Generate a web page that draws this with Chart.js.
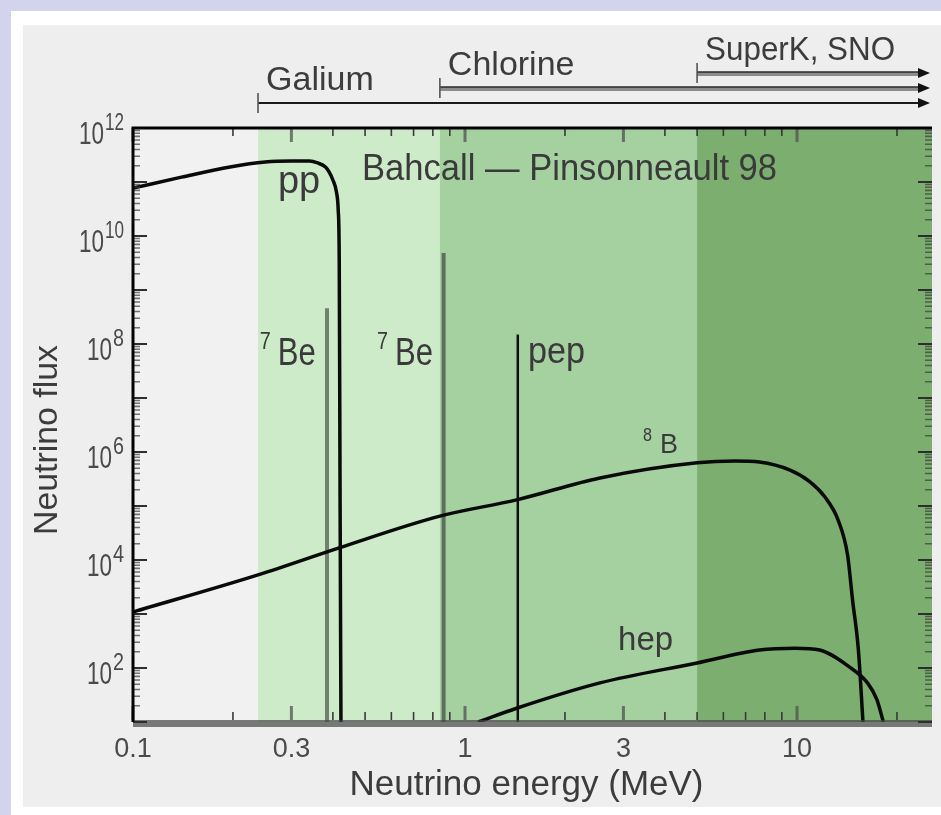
<!DOCTYPE html>
<html>
<head>
<meta charset="utf-8">
<script src="https://cdn.jsdelivr.net/npm/chart.js@4/dist/chart.umd.min.js"></script>
<style>
  html, body { margin: 0; padding: 0; background: #d3d3ee; }
  canvas { display: block; }
</style>
</head>
<body>
<canvas id="spectrum" width="941" height="815"></canvas>
<script>
// Solar neutrino spectrum, Bahcall–Pinsonneault 98 (energy in MeV)

// pp continuum
const ppEnergy = [0.1, 0.14, 0.196, 0.25, 0.3, 0.34, 0.36, 0.38, 0.39, 0.40, 0.41, 0.415, 0.418, 0.4205, 0.423];
const ppFlux   = [7.7e10, 1.23e11, 1.9e11, 2.35e11, 2.45e11, 2.45e11, 2.25e11, 1.9e11, 1.53e11, 1.09e11, 6.5e10, 3.05e10, 3.6e9, 1e5, 10];

// 8B continuum
const b8Energy = [0.1, 0.238, 0.42, 0.84, 1.43, 2.55, 5.0, 6.5, 7.7, 9.53, 10.94, 12.1, 13.3, 14.2, 14.7, 15.3, 15.8];
const b8Flux   = [1.09e3, 5.3e3, 1.7e4, 6.5e4, 1.3e5, 3.3e5, 6.3e5, 6.8e5, 6.5e5, 4.6e5, 2.8e5, 1.5e5, 5.5e4, 1.24e4, 1.8e3, 2.2e2, 10];

// hep continuum
const hepEnergy = [1.095, 1.43, 2.55, 5.0, 7.7, 9.86, 11.7, 14.4, 16.3, 17.4, 18.2];
const hepFlux   = [10, 18, 53, 124, 215, 233, 215, 104, 53, 26, 10];

// mono-energetic lines
const lineEnergy = [0.384, 0.862, 1.442];
const lineFlux   = [4.6e8, 4.84e9, 1.5e8];

// detector thresholds (start of each shaded band)
const detectorNames      = ['Galium', 'Chlorine', 'SuperK, SNO'];
const detectorThresholds = [0.238, 0.84, 5.0];

// axis ranges and labelled ticks
const energyRange    = [0.1, 25.5];
const fluxRange      = [10, 1e12];
const xTickLabels    = ['0.1', '0.3', '1', '3', '10'];
const xTickValues    = [0.1, 0.3, 1, 3, 10];
const yTickExponents = [2, 4, 6, 8, 10, 12];

const FONT = '"Liberation Sans", Arial, Helvetica, sans-serif';
const bandColors = ['#cdebc9', '#a5d1a1', '#7cae70'];

function pts(xs, ys) { return xs.map((x, i) => ({ x, y: ys[i] })); }
function spike(i) { return [{ x: lineEnergy[i], y: fluxRange[0] }, { x: lineEnergy[i], y: lineFlux[i] }]; }

function put(ctx, str, x, y, size, maxW, align) {
  ctx.font = size + 'px ' + FONT;
  ctx.textAlign = align || 'left';
  if (maxW) ctx.fillText(str, x, y, maxW); else ctx.fillText(str, x, y);
}

const decor = {
  id: 'decor',
  beforeDraw(chart) {
    const { ctx, chartArea: a, scales: { x } } = chart;
    ctx.save();
    ctx.fillStyle = '#d3d3ee'; ctx.fillRect(0, 0, 941, 815);
    ctx.fillStyle = '#ffffff'; ctx.fillRect(11, 11, 930, 804);
    ctx.fillStyle = '#eeeeee'; ctx.fillRect(23, 25, 918, 782);
    ctx.fillStyle = '#f1f1f1'; ctx.fillRect(a.left, a.top, a.width, a.height);
    const edges = detectorThresholds.concat([x.max]);
    for (let i = 0; i < detectorThresholds.length; i++) {
      const x0 = x.getPixelForValue(edges[i]);
      const x1 = x.getPixelForValue(edges[i + 1]);
      ctx.fillStyle = bandColors[i];
      ctx.fillRect(x0, a.top, x1 - x0, a.height);
    }
    ctx.restore();
  },
  afterDatasetsDraw(chart) {
    const { ctx, chartArea: a, scales: { x, y } } = chart;
    ctx.save();
    ctx.lineCap = 'butt';

    // bottom axis bar
    ctx.fillStyle = 'rgba(70,70,70,0.7)';
    ctx.fillRect(a.left, a.bottom - 2, a.right - a.left, 7);

    // energy ticks, bottom and top
    for (let d = -1; d <= 1; d++) {
      for (let m = 1; m <= 9; m++) {
        const v = m * Math.pow(10, d);
        if (v < x.min * 0.999 || v > x.max) continue;
        const px = x.getPixelForValue(v);
        const major = xTickValues.some(t => Math.abs(t - v) < 1e-9);
        ctx.strokeStyle = major ? 'rgba(80,80,80,0.75)' : '#3a3a3a';
        ctx.lineWidth = major ? 3 : 1.6;
        const len = major ? 14 : 8;
        ctx.beginPath();
        ctx.moveTo(px, a.bottom - 2); ctx.lineTo(px, a.bottom - 2 - len);
        ctx.moveTo(px, a.top); ctx.lineTo(px, a.top + len);
        ctx.stroke();
      }
    }

    // flux ticks, left and right
    for (let e = 1; e <= 12; e++) {
      for (let m = 1; m <= 9; m++) {
        const v = m * Math.pow(10, e);
        if (v > y.max * 1.001) continue;
        const py = y.getPixelForValue(v);
        const len = m === 1 ? 14 : 7;
        ctx.strokeStyle = m === 1 ? '#2e2e2e' : 'rgba(60,60,60,0.7)';
        ctx.lineWidth = m === 1 ? 2 : 1.6;
        ctx.beginPath();
        ctx.moveTo(a.left, py); ctx.lineTo(a.left + len, py);
        ctx.moveTo(a.right, py); ctx.lineTo(a.right - len, py);
        ctx.stroke();
      }
    }

    // frame: left and top in black
    ctx.strokeStyle = '#000';
    ctx.lineWidth = 3;
    ctx.beginPath();
    ctx.moveTo(a.left, a.bottom); ctx.lineTo(a.left, a.top);
    ctx.lineTo(a.right, a.top);
    ctx.stroke();

    // tick labels
    ctx.fillStyle = '#4a4a4a';
    ctx.textBaseline = 'alphabetic';
    xTickValues.forEach((v, i) => {
      put(ctx, xTickLabels[i], x.getPixelForValue(v), a.bottom + 35, 27, null, 'center');
    });
    yTickExponents.forEach(e => {
      const py = y.getPixelForValue(Math.pow(10, e));
      const supRight = a.left - 9;
      const supMax = e >= 10 ? 19 : 11;
      ctx.font = '23px ' + FONT;
      const supW = Math.min(ctx.measureText(String(e)).width, supMax);
      put(ctx, String(e), supRight, py + 2, 23, supMax, 'right');
      put(ctx, '10', supRight - supW - 1, py + 16, 31, 25, 'right');
    });

    // axis titles
    ctx.fillStyle = '#3c3c3c';
    put(ctx, 'Neutrino energy (MeV)', (a.left + a.right) / 2 - 6, a.bottom + 73, 35, 356, 'center');
    ctx.save();
    ctx.translate(57, 440);
    ctx.rotate(-Math.PI / 2);
    put(ctx, 'Neutrino flux', 0, 0, 34, 190, 'center');
    ctx.restore();

    // detector ranges above the plot
    const lineYs = [a.top - 25, a.top - 40, a.top - 55];
    const arrowTip = a.right - 2;
    detectorThresholds.forEach((t, i) => {
      const px = x.getPixelForValue(t);
      const ly = lineYs[i];
      if (i === 0) {
        ctx.strokeStyle = '#1a1a1a'; ctx.lineWidth = 2;
        ctx.beginPath(); ctx.moveTo(px, ly); ctx.lineTo(arrowTip - 10, ly); ctx.stroke();
      } else {
        ctx.strokeStyle = '#8c8c8c'; ctx.lineWidth = 4;
        ctx.beginPath(); ctx.moveTo(px, ly + 1); ctx.lineTo(arrowTip - 10, ly + 1); ctx.stroke();
        ctx.strokeStyle = '#2a2a2a'; ctx.lineWidth = 1.5;
        ctx.beginPath(); ctx.moveTo(px, ly - 1); ctx.lineTo(arrowTip - 10, ly - 1); ctx.stroke();
      }
      ctx.fillStyle = '#111';
      ctx.beginPath();
      ctx.moveTo(arrowTip, ly); ctx.lineTo(arrowTip - 12, ly - 5); ctx.lineTo(arrowTip - 12, ly + 5);
      ctx.closePath(); ctx.fill();
      ctx.strokeStyle = '#555'; ctx.lineWidth = 1.6;
      ctx.beginPath(); ctx.moveTo(px, ly - 10); ctx.lineTo(px, ly + 10); ctx.stroke();
      ctx.fillStyle = '#3c3c3c';
      const widths = [113, 130, 190];
      put(ctx, detectorNames[i], px + 8, ly - 13, 34, widths[i], 'left');
    });

    // labels inside the plot
    ctx.fillStyle = '#3a3a3a';
    const X = v => x.getPixelForValue(v), Y = v => y.getPixelForValue(v);
    put(ctx, 'pp', X(0.2733), Y(6.25e10), 38, 44);
    put(ctx, 'Bahcall \u2014 Pinsonneault 98', X(0.4896), Y(1.09e11), 36, 415);
    [[0.273, 4.08e7], [0.6154, 4.08e7]].forEach(([bx, by]) => {
      put(ctx, 'Be', X(bx), Y(by), 38, 38);
      put(ctx, '7', X(bx) - 7, Y(by) - 16, 24, 11, 'right');
    });
    put(ctx, 'pep', X(1.548), Y(4.45e7), 36, 57);
    put(ctx, 'B', X(3.867), Y(9.57e5), 28, 18);
    put(ctx, '8', X(3.867) - 17, Y(9.57e5) - 12, 18, 9, 'left');
    put(ctx, 'hep', X(2.89), Y(215), 33, 57);

    ctx.restore();
  }
};

new Chart(document.getElementById('spectrum'), {
  type: 'line',
  data: {
    datasets: [
      { label: 'pp',  data: pts(ppEnergy, ppFlux),   borderColor: '#0a0a0a', borderWidth: 3.5, cubicInterpolationMode: 'monotone' },
      { label: '8B',  data: pts(b8Energy, b8Flux),   borderColor: '#0a0a0a', borderWidth: 3.5, cubicInterpolationMode: 'monotone' },
      { label: 'hep', data: pts(hepEnergy, hepFlux), borderColor: '#0a0a0a', borderWidth: 3.5, cubicInterpolationMode: 'monotone' },
      { label: 'pep', data: spike(2), borderColor: '#111', borderWidth: 2.5 },
      { label: '7Be 0.862', data: spike(1), borderColor: '#5f6e5e', borderWidth: 4 },
      { label: '7Be 0.384', data: spike(0), borderColor: '#72806f', borderWidth: 4 }
    ]
  },
  options: {
    responsive: false,
    animation: false,
    events: [],
    layout: { padding: { left: 133, top: 128, right: 9, bottom: 93 } },
    elements: { point: { radius: 0 }, line: { borderCapStyle: 'butt' } },
    plugins: { legend: { display: false }, tooltip: { enabled: false }, title: { display: false } },
    scales: {
      x: { type: 'logarithmic', min: energyRange[0], max: energyRange[1], display: false },
      y: { type: 'logarithmic', min: fluxRange[0], max: fluxRange[1], display: false }
    }
  },
  plugins: [decor]
});
</script>
</body>
</html>
